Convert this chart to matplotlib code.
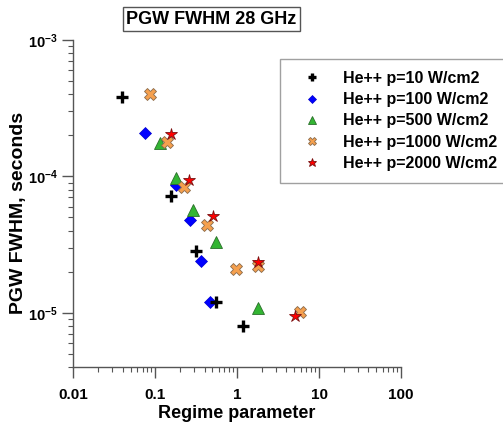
import matplotlib
matplotlib.use("Agg")
import matplotlib.pyplot as plt
from matplotlib.ticker import LogLocator, FuncFormatter, NullFormatter
import numpy as np

plt.rcParams['font.family'] = ['Liberation Sans', 'DejaVu Sans']
plt.rcParams['font.weight'] = 'bold'
plt.rcParams['mathtext.fontset'] = 'custom'
plt.rcParams['mathtext.rm'] = 'Liberation Sans:bold'
plt.rcParams['mathtext.bf'] = 'Liberation Sans:bold'
plt.rcParams['mathtext.it'] = 'Liberation Sans:bold'

# regime parameter / PGW FWHM (s) per power level
x_p10 = [0.0398, 0.155, 0.317, 0.548, 1.185]
y_p10 = [3.82e-4, 7.16e-5, 2.82e-5, 1.20e-5, 8.06e-6]

x_p100 = [0.0741, 0.177, 0.268, 0.365, 0.471]
y_p100 = [2.08e-4, 8.69e-5, 4.82e-5, 2.41e-5, 1.20e-5]

x_p500 = [0.1155, 0.180, 0.288, 0.558, 1.81]
y_p500 = [1.75e-4, 9.73e-5, 5.70e-5, 3.31e-5, 1.09e-5]

x_p1000 = [0.0863, 0.1396, 0.2215, 0.433, 0.964, 1.81, 5.89]
y_p1000 = [4.01e-4, 1.80e-4, 8.40e-5, 4.43e-5, 2.11e-5, 2.19e-5, 1.01e-5]

x_p2000 = [0.155, 0.262, 0.507, 1.81, 5.11]
y_p2000 = [2.06e-4, 9.46e-5, 5.15e-5, 2.34e-5, 9.54e-6]

labels = ['He++ p=10 W/cm2', 'He++ p=100 W/cm2', 'He++ p=500 W/cm2',
          'He++ p=1000 W/cm2', 'He++ p=2000 W/cm2']

fig = plt.figure(figsize=(5.03, 4.28), dpi=100)
ax = fig.add_axes([73.3/503, 1-367/428, (401-73.3)/503, (367-40)/428])

h1, = ax.plot(x_p10, y_p10, '+', color='black', ms=8.5, mew=2.4, ls='none', zorder=6)
h2, = ax.plot(x_p100, y_p100, 'D', color='#0000ff', mec='#0000cc', mew=0.5, ms=6.3, ls='none', zorder=2)
h3, = ax.plot(x_p500, y_p500, '^', color='#33b533', mec='#2a6e2a', mew=0.6, ms=8.5, ls='none', zorder=3)
h4, = ax.plot(x_p1000, y_p1000, 'X', color='#f5a04e', mec='#8a6a4a', mew=0.6, ms=8.8, ls='none', zorder=4)
h5, = ax.plot(x_p2000, y_p2000, '*', color='#ff0000', mec='#7a1010', mew=0.6, ms=9, ls='none', zorder=5)

ax.set_xscale('log')
ax.set_yscale('log')
ax.set_xlim(0.01, 100)
ax.set_ylim(4e-6, 1e-3)

for s in ['top', 'right']:
    ax.spines[s].set_visible(False)
for s in ['left', 'bottom']:
    ax.spines[s].set_color('#555555')
    ax.spines[s].set_linewidth(1.0)

ax.xaxis.set_major_locator(LogLocator(base=10, numticks=10))
ax.xaxis.set_minor_locator(LogLocator(base=10, subs=np.arange(2, 10), numticks=10))
ax.yaxis.set_major_locator(LogLocator(base=10, numticks=10))
ax.yaxis.set_minor_locator(LogLocator(base=10, subs=np.arange(2, 10), numticks=10))
ax.xaxis.set_major_formatter(FuncFormatter(lambda v, p: ('%g' % v)))
ax.yaxis.set_major_formatter(FuncFormatter(
    lambda v, p: r'$\mathbf{10^{%d}}$' % int(round(np.log10(v)))))
ax.xaxis.set_minor_formatter(NullFormatter())
ax.yaxis.set_minor_formatter(NullFormatter())

ax.tick_params(which='major', direction='out', length=8, width=1.0, color='#555555')
ax.tick_params(which='minor', direction='out', length=3.5, width=0.8, color='#555555')
ax.tick_params(axis='x', which='major', pad=7, labelsize=11)
ax.tick_params(axis='y', which='major', pad=3, labelsize=10.5)

fig.text(237/503, 1-413.5/428, 'Regime parameter', ha='center', va='center',
         fontsize=13, fontweight='bold')
fig.text(19/503, 1-213/428, 'PGW FWHM, seconds', ha='center', va='center',
         rotation=90, fontsize=14, fontweight='bold')

fig.text(211.5/503, 1-19/428, 'PGW FWHM 28 GHz', ha='center', va='center',
         fontsize=13, fontweight='bold',
         bbox=dict(boxstyle='square,pad=0.2', fc='white', ec='#555555', lw=1.0))

leg = ax.legend([h1, h2, h3, h4, h5], labels, loc='upper left',
                bbox_to_anchor=(280/503, 1-59/428), bbox_transform=fig.transFigure,
                borderaxespad=0, fancybox=False, frameon=True, markerscale=0.7,
                prop={'size': 11.5, 'weight': 'bold'}, labelspacing=0.39,
                handletextpad=0.63, borderpad=0.75, handlelength=2.55)
leg.get_frame().set_edgecolor('#888888')
leg.get_frame().set_linewidth(1.0)
leg.set_clip_on(False)

fig.savefig('out.png', dpi=100)
